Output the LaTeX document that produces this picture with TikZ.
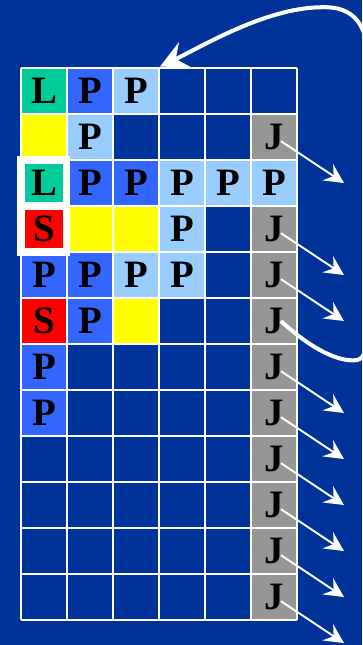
\documentclass[tikz,border=0pt]{standalone}
\usepackage{fontspec}
\setmainfont{Liberation Serif}
\usetikzlibrary{calc, arrows.meta}
\definecolor{slideBg}{RGB}{0, 51, 153}
\definecolor{cellL}{RGB}{0, 204, 153}
\definecolor{cellP}{RGB}{51, 102, 255}
\definecolor{cellQ}{RGB}{153, 204, 255}
\definecolor{cellY}{RGB}{255, 255, 0}
\definecolor{cellS}{RGB}{255, 0, 0}
\definecolor{cellJ}{RGB}{150, 150, 150}

\begin{document}
\begin{tikzpicture}[
  cell/.style={minimum size=1cm, inner sep=0pt,
               font=\fontsize{24}{24}\selectfont\bfseries},
  inset/.style={cell, minimum size=0.83cm},
  link/.style={white, line width=1.2pt,
               -{Stealth[length=4.2mm, width=4.2mm, inset=1.5mm]}},
  jump/.style={white, line width=2.5pt,
               -{Stealth[length=6mm, width=6mm, inset=2.2mm]}}
]
  \useasboundingbox (-0.457, 1.478) rectangle (7.413, -12.543);
  \clip (-0.457, 1.478) rectangle (7.413, -12.543);
  \fill[slideBg] (-0.457, 1.478) rectangle (7.413, -12.543);

  % ── rows 0-1 ──
  \node[cell, fill=cellL] (r0c0) at (0.5, -0.5) {L};
  \node[cell, fill=cellP] (r0c1) at (1.5, -0.5) {P};
  \node[cell, fill=cellQ] (r0c2) at (2.5, -0.5) {P};
  \node[cell, fill=cellY] (r1c0) at (0.5, -1.5) {};
  \node[cell, fill=cellQ] (r1c1) at (1.5, -1.5) {P};

  % ── row 2 ──
  \node[cell, fill=cellP] (r2c1) at (1.5, -2.5) {P};
  \node[cell, fill=cellP] (r2c2) at (2.5, -2.5) {P};
  \foreach \c in {3,4,5}
    \node[cell, fill=cellQ] (r2c\c) at (\c+0.5, -2.5) {P};

  % ── rows 3-5 ──
  \node[cell, fill=cellY] (r3c1) at (1.5, -3.5) {};
  \node[cell, fill=cellY] (r3c2) at (2.5, -3.5) {};
  \node[cell, fill=cellQ] (r3c3) at (3.5, -3.5) {P};
  \node[cell, fill=cellP] (r4c0) at (0.5, -4.5) {P};
  \node[cell, fill=cellP] (r4c1) at (1.5, -4.5) {P};
  \node[cell, fill=cellQ] (r4c2) at (2.5, -4.5) {P};
  \node[cell, fill=cellQ] (r4c3) at (3.5, -4.5) {P};
  \node[cell, fill=cellS] (r5c0) at (0.5, -5.5) {S};
  \node[cell, fill=cellP] (r5c1) at (1.5, -5.5) {P};
  \node[cell, fill=cellY] (r5c2) at (2.5, -5.5) {};

  % ── rows 6-7 ──
  \node[cell, fill=cellP] (r6c0) at (0.5, -6.5) {P};
  \node[cell, fill=cellP] (r7c0) at (0.5, -7.5) {P};

  % ── J column ──
  \foreach \r in {1,3,4,...,11}
    \node[cell, fill=cellJ] (j\r) at (5.5, -\r-0.5) {J};

  \draw[white, line width=1.2pt] (0,0) grid (6,-12);

  % ── marked pair ──
  \fill[white] (-0.087, -1.913) rectangle (1.065, -4.087);
  \node[inset, fill=cellL] (r2c0) at (0.5, -2.5) {L};
  \node[inset, fill=cellS] (r3c0) at (0.5, -3.5) {S};

  % ── links out ──
  \foreach \r in {1,3,4,6,7,...,11} {
    \coordinate (e\r) at (7.02, -\r-1.5);
    \draw[link] ([shift={(0.15,-0.09)}]j\r.center) -- (e\r);
  }

  % ── jump back ──
  \coordinate (back) at (3.02, 0.03);
  \draw[jump] ([shift={(0.15,0)}]j5.center)
    .. controls (6.3,-6.1) and (6.9,-6.4) .. (7.3,-6.35)
    .. controls (7.48,-6.3) and (7.55,-6.1) .. (7.55,-5.5)
    -- (7.55,0.1)
    .. controls (7.55,1.1) and (7.1,1.35) .. (6.5,1.32)
    .. controls (5.3,1.3) and (3.9,0.45) .. (back);
\end{tikzpicture}
\end{document}
